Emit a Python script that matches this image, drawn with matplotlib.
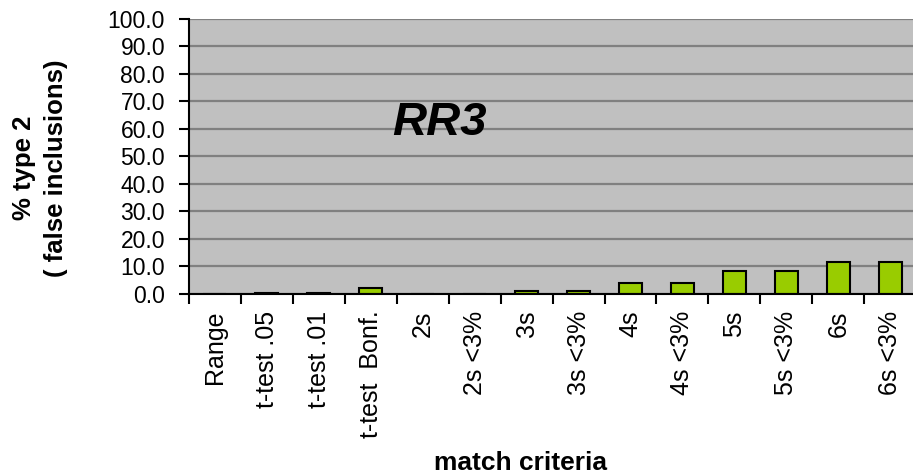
import matplotlib.pyplot as plt
from matplotlib.ticker import FixedLocator, FormatStrFormatter

# Chart data
categories = ['Range', 't-test .05', 't-test .01', 't-test  Bonf.', '2s', '2s <3%',
              '3s', '3s <3%', '4s', '4s <3%', '5s', '5s <3%', '6s', '6s <3%']
type2_pct = [0.0, 0.5, 0.5, 2.0, 0.0, 0.0, 1.2, 1.2, 4.0, 4.0, 8.4, 8.4, 11.5, 11.5]
y_ticks = [0, 10, 20, 30, 40, 50, 60, 70, 80, 90, 100]

plt.rcParams['font.family'] = ['Liberation Sans', 'DejaVu Sans']

fig = plt.figure(figsize=(9.13, 4.76), dpi=100)
ax = fig.add_axes([0.2067, 0.3824, 0.797, 0.5777])
ax.set_facecolor('#C0C0C0')

x = list(range(len(categories)))
ax.bar(x, type2_pct, width=0.44, color='#99CC00', edgecolor='black',
       linewidth=1.5, zorder=3)

ax.set_xlim(-0.5, len(categories) - 0.5)
ax.set_ylim(0, 100)

# Gridlines
ax.set_yticks(y_ticks)
ax.yaxis.set_major_formatter(FormatStrFormatter('%.1f'))
ax.grid(axis='y', color='#808080', linewidth=1.6, zorder=1)
ax.set_axisbelow(True)

# Category labels at centres (hanging from the axis), tick marks between categories
ax.set_xticks(x)
ax.set_xticklabels(categories, rotation=90, rotation_mode='anchor',
                   ha='right', va='center', fontsize=18)
ax.xaxis.set_minor_locator(FixedLocator([i - 0.5 for i in range(len(categories) + 1)]))
ax.tick_params(axis='x', which='major', length=0, pad=12)
ax.tick_params(axis='x', which='minor', length=7, width=1.5, direction='out')
ax.tick_params(axis='y', which='major', length=7, width=1.5, direction='out',
               labelsize=16.5, pad=10)

for side in ['top', 'right']:
    ax.spines[side].set_visible(False)
for side in ['left', 'bottom']:
    ax.spines[side].set_linewidth(1.5)
    ax.spines[side].set_zorder(4)

ax.text(0.345, 0.62, 'RR3', transform=ax.transAxes, fontsize=34,
        fontweight='bold', fontstyle='italic', ha='center', va='center')

fig.text(0.044, 0.647, '% type 2\n( false inclusions)', rotation=90,
         fontsize=18.5, fontweight='bold', ha='center', va='center',
         multialignment='center', linespacing=1.4)
fig.text(521 / 913, 1 - 463 / 476, 'match criteria', fontsize=19,
         fontweight='bold', ha='center', va='center')

fig.savefig('out.png', dpi=100)
